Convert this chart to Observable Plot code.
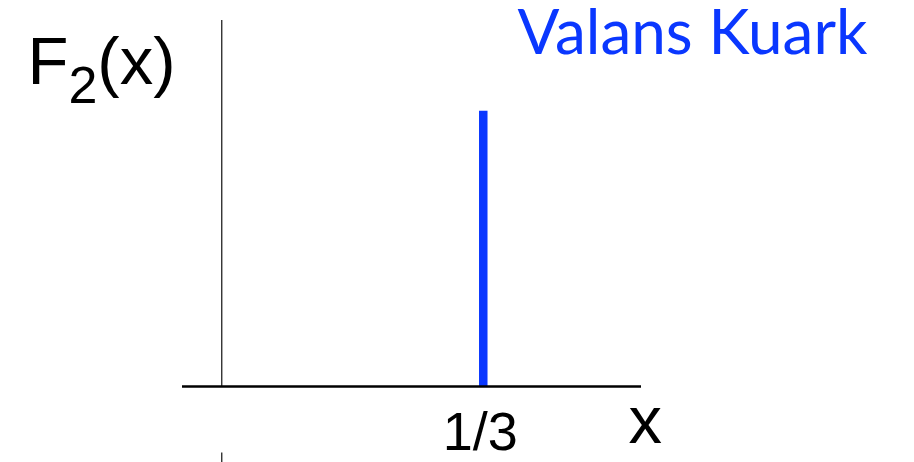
<!DOCTYPE html>
<html>
<head>
<meta charset="utf-8">
<script src="https://cdn.jsdelivr.net/npm/d3@7"></script>
<script src="https://cdn.jsdelivr.net/npm/@observablehq/plot@0.6"></script>
<style>
  html, body { margin: 0; padding: 0; background: #fff; }
</style>
</head>
<body>
<div id="chart"></div>
<script>
// Valence quark structure function: all momentum sits at x = 1/3
const quarkX = [1 / 3];
const quarkF2 = [1];
const xTicks = [1 / 3];
const xTickLabels = ["1/3"];
const title = ["Valans Kuark"];
const xLabel = ["x"];
const yLabelParts = ["F", "2", "(x)"];

const blue = "#0a37ff";
const spike = quarkX.map((x, i) => ({x, f2: quarkF2[i]}));

const chart = Plot.plot({
  width: 914,
  height: 462,
  marginLeft: 182,
  marginRight: 273,
  marginTop: 20,
  marginBottom: 76,
  style: {fontFamily: "'Liberation Sans', Arial, sans-serif", background: "white", overflow: "visible"},
  x: {domain: [-0.05, 0.535], label: null},
  y: {domain: [0, 1.33], axis: null, label: null},
  marks: [
    // vertical axis line (x = 0) across the frame, and its stub below the tick labels
    Plot.ruleX([0], {stroke: "#333", strokeWidth: 1.4}),
    Plot.ruleX([0], {y1: -0.242, y2: -0.3, stroke: "#333", strokeWidth: 1.4}),
    // the delta-like spike
    Plot.ruleX(spike, {x: "x", y1: 0, y2: "f2", stroke: blue, strokeWidth: 8.5}),
    // horizontal axis line
    Plot.ruleY([0], {stroke: "black", strokeWidth: 2.5}),
    Plot.axisX(xTicks, {
      tickSize: 0,
      tickPadding: 25.5,
      tickFormat: (d, i) => xTickLabels[i],
      fontSize: 54,
      fill: "black",
      dx: -3
    }),
    Plot.text(xLabel, {
      text: d => d, frameAnchor: "bottom-right", dx: -13, dy: 56,
      textAnchor: "start", lineAnchor: "bottom", fontSize: 67, fill: "black"
    }),
    Plot.text([yLabelParts.join("")], {
      text: d => d, frameAnchor: "top-left", dx: -155, dy: 63,
      textAnchor: "start", lineAnchor: "bottom", fontSize: 67, fill: "black"
    }),
    Plot.text(title, {
      text: d => d, frameAnchor: "top-right", dx: 226, dy: 33,
      textAnchor: "end", lineAnchor: "bottom", fontSize: 62,
      fontFamily: "Lato, 'Open Sans', sans-serif", fill: blue
    })
  ]
});

// Rebuild the y label with a subscript 2
d3.select(chart).selectAll("text")
  .filter(function () { return this.textContent === yLabelParts.join(""); })
  .each(function () {
    const t = d3.select(this);
    t.text("");
    t.append("tspan").text(yLabelParts[0]);
    t.append("tspan").attr("font-size", 52).attr("dy", 19).text(yLabelParts[1]);
    t.append("tspan").attr("dy", -19).text(yLabelParts[2]);
  });

document.getElementById("chart").appendChild(chart);
</script>
</body>
</html>
